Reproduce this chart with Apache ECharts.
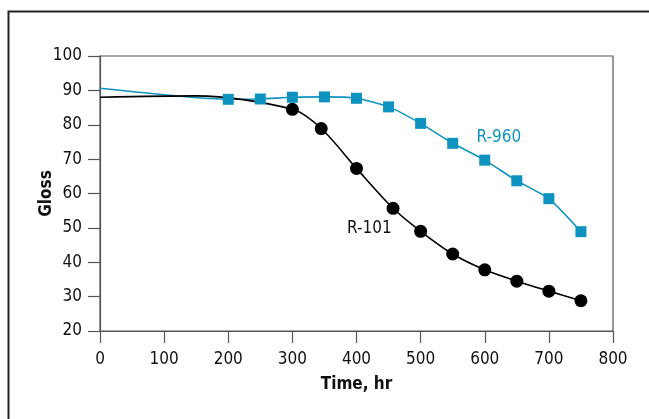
<!DOCTYPE html>
<html>
<head>
<meta charset="utf-8">
<script src="https://cdn.jsdelivr.net/npm/echarts@6/dist/echarts.min.js"></script>
<style>
html,body{margin:0;padding:0;background:#fff;}
#chart{width:649px;height:419px;}
</style>
</head>
<body>
<div id="chart"></div>
<script>
// Data
var r960Time  = [0, 200, 250, 300, 350, 400, 450, 500, 550, 600, 650, 700, 750];
var r960Gloss = [90.6, 87.4, 87.5, 88.0, 88.1, 87.7, 85.2, 80.4, 74.6, 69.7, 63.7, 58.5, 48.9];
var r101Time  = [0, 150, 300, 345, 400, 457, 500, 550, 600, 650, 700, 750];
var r101Gloss = [88.0, 88.4, 84.5, 78.9, 67.3, 55.7, 49.0, 42.4, 37.8, 34.5, 31.6, 28.8];
// points drawn only as part of the curve (no marker)
var r960Hidden = [0];
var r101Hidden = [0, 150];
var yTicks = [20, 100, 10];
var xTicks = [0, 800, 100];
var seriesNames = ['R-960', 'R-101'];
var labelAnchors = [[622, 76.3], [420, 49.7]];

var FONT = '"Liberation Sans Narrow", "DejaVu Sans Condensed", "Liberation Sans", sans-serif';
var TEAL = '#0e93c0';

function build(times, vals, hidden) {
  return times.map(function (t, i) {
    var item = { value: [t, vals[i]] };
    if (hidden.indexOf(t) >= 0) item.symbol = 'none';
    return item;
  });
}

var chart = echarts.init(document.getElementById('chart'), null, { renderer: 'canvas' });
var axisLineStyle = { color: '#555', width: 1.2 };
chart.setOption({
  animation: false,
  backgroundColor: '#fff',
  grid: { left: 100, right: 36, top: 56, bottom: 88, show: true, borderColor: '#555', borderWidth: 1.2 },
  xAxis: {
    type: 'value', min: xTicks[0], max: xTicks[1], interval: xTicks[2],
    name: 'Time, hr', nameLocation: 'middle', nameGap: 45, nameMoveOverlap: false,
    nameTextStyle: { fontFamily: FONT, fontWeight: 'bold', fontSize: 17, color: '#111' },
    axisLine: { show: true, lineStyle: axisLineStyle },
    axisTick: { show: true, inside: false, length: 12, lineStyle: axisLineStyle },
    axisLabel: { margin: 20, fontFamily: FONT, fontSize: 17, color: '#111' },
    splitLine: { show: false }
  },
  yAxis: {
    type: 'value', min: yTicks[0], max: yTicks[1], interval: yTicks[2],
    name: 'Gloss', nameLocation: 'middle', nameGap: 45, nameRotate: 90, nameMoveOverlap: false,
    nameTextStyle: { fontFamily: FONT, fontWeight: 'bold', fontSize: 17, color: '#111' },
    axisLine: { show: true, lineStyle: axisLineStyle },
    axisTick: { show: true, inside: false, length: 12, lineStyle: axisLineStyle },
    axisLabel: { margin: 18, fontFamily: FONT, fontSize: 17, color: '#111' },
    splitLine: { show: false }
  },
  series: [
    {
      name: seriesNames[0], type: 'line', smooth: 0.2,
      data: build(r960Time, r960Gloss, r960Hidden),
      symbol: 'rect', symbolSize: 11, showAllSymbol: true,
      lineStyle: { color: TEAL, width: 1.6 },
      itemStyle: { color: TEAL }
    },
    {
      name: seriesNames[1], type: 'line', smooth: 0.3,
      data: build(r101Time, r101Gloss, r101Hidden),
      symbol: 'circle', symbolSize: 13, showAllSymbol: true,
      lineStyle: { color: '#000', width: 1.6 },
      itemStyle: { color: '#000' }
    }
  ]
});

var p1 = chart.convertToPixel({ gridIndex: 0 }, labelAnchors[0]);
var p2 = chart.convertToPixel({ gridIndex: 0 }, labelAnchors[1]);
chart.setOption({
  graphic: [
    { type: 'rect', left: 6, top: 9, shape: { x: 0, y: 0, width: 700, height: 500 },
      style: { fill: 'none', stroke: '#222', lineWidth: 2 }, silent: true, z: -1 },
    { type: 'text', x: p1[0], y: p1[1],
      style: { text: seriesNames[0], fill: TEAL, font: '17px ' + FONT, textAlign: 'center', textVerticalAlign: 'middle' } },
    { type: 'text', x: p2[0], y: p2[1],
      style: { text: seriesNames[1], fill: '#111', font: '17px ' + FONT, textAlign: 'center', textVerticalAlign: 'middle' } }
  ]
});
</script>
</body>
</html>
